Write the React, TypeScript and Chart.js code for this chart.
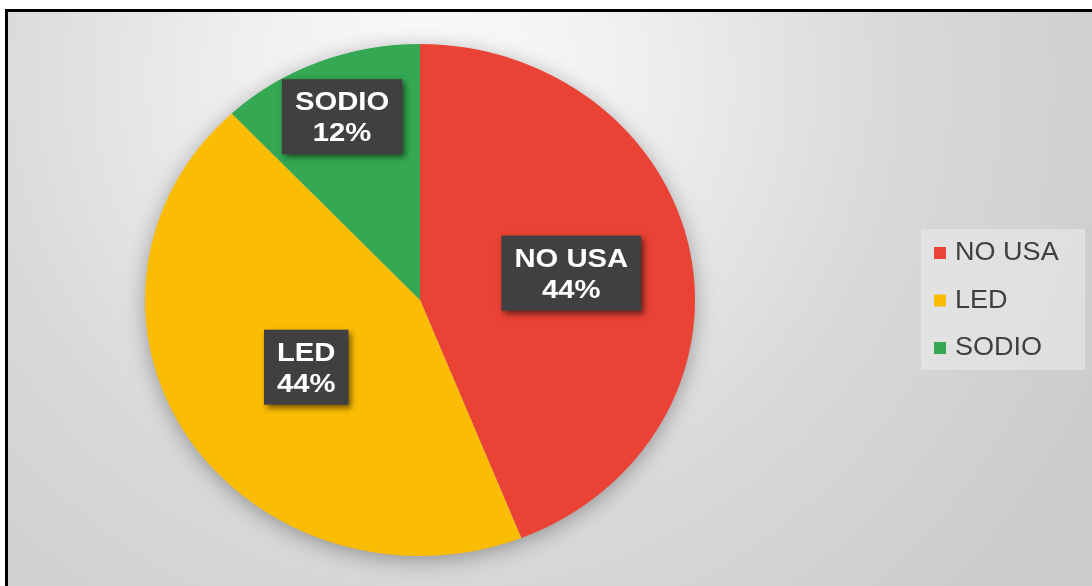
import React, { useEffect, useRef } from "react";
import { Chart, registerables } from "chart.js";

Chart.register(...registerables);

const categories = ["NO USA", "LED", "SODIO"];
const values = [44, 44, 12];
const percentLabels = ["44%", "44%", "12%"];
const colors = ["#EA4335", "#FBBC04", "#34A853"];
const labelRadius = [0.56, 0.49, 0.77];

const W = 1092;
const H = 586;
const X_STRETCH = 275 / 256;
const FONT = '"Liberation Sans", Arial, sans-serif';

const framePlugin = {
  id: "frame",
  beforeDraw(chart: any) {
    const ctx = chart.ctx;
    ctx.save();
    ctx.fillStyle = "#ffffff";
    ctx.fillRect(0, 0, W, H);
    const g = ctx.createRadialGradient(440, 80, 0, 440, 80, 760);
    g.addColorStop(0, "#fbfbfb");
    g.addColorStop(0.25, "#f0f0f0");
    g.addColorStop(0.6, "#d9d9d9");
    g.addColorStop(1, "#cbcbcb");
    ctx.fillStyle = g;
    ctx.fillRect(5, 9, W - 5, H - 9);
    ctx.fillStyle = "#000000";
    ctx.fillRect(5, 9, W - 5, 3);
    ctx.fillRect(5, 9, 3, H - 9);
    ctx.restore();
  },
};

const stretchPlugin = {
  id: "stretch",
  beforeDatasetsDraw(chart: any) {
    const ctx = chart.ctx;
    const arc = chart.getDatasetMeta(0).data[0];
    if (!arc) return;
    const { x, y, outerRadius } = arc.getProps(["x", "y", "outerRadius"], true);
    ctx.save();
    ctx.translate(x, y);
    ctx.scale(X_STRETCH, 1);
    ctx.translate(-x, -y);
    ctx.save();
    ctx.shadowColor = "rgba(0,0,0,0.35)";
    ctx.shadowBlur = 22;
    ctx.shadowOffsetY = 4;
    ctx.fillStyle = "#d0d0d0";
    ctx.beginPath();
    ctx.arc(x, y, outerRadius - 1, 0, Math.PI * 2);
    ctx.fill();
    ctx.restore();
  },
  afterDatasetsDraw(chart: any) {
    const ctx = chart.ctx;
    ctx.restore();

    const meta = chart.getDatasetMeta(0);
    meta.data.forEach((el: any, i: number) => {
      const p = el.getProps(["x", "y", "startAngle", "endAngle", "outerRadius"], true);
      const mid = (p.startAngle + p.endAngle) / 2;
      const lx = p.x + Math.cos(mid) * p.outerRadius * labelRadius[i] * X_STRETCH;
      const ly = p.y + Math.sin(mid) * p.outerRadius * labelRadius[i];
      const lines = [chart.data.labels[i], percentLabels[i]];
      const sx = 1.17;
      ctx.save();
      ctx.font = `bold 25px ${FONT}`;
      const tw = Math.max(...lines.map((t: string) => ctx.measureText(t).width)) * sx;
      const bw = tw + 26;
      const bh = 75;
      const bx = lx - bw / 2;
      const by = ly - bh / 2;
      ctx.save();
      ctx.shadowColor = "rgba(0,0,0,0.55)";
      ctx.shadowBlur = 6;
      ctx.shadowOffsetX = 3;
      ctx.shadowOffsetY = 3;
      ctx.fillStyle = "#404040";
      ctx.fillRect(bx, by, bw, bh);
      ctx.restore();
      ctx.fillStyle = "#ffffff";
      ctx.textAlign = "center";
      ctx.textBaseline = "middle";
      lines.forEach((t: string, k: number) => {
        ctx.save();
        ctx.translate(lx, by + 24 + k * 31);
        ctx.scale(sx, 1);
        ctx.fillText(t, 0, 0);
        ctx.restore();
      });
      ctx.restore();
    });

    ctx.save();
    ctx.fillStyle = "rgba(236,236,236,0.55)";
    ctx.fillRect(921, 229, 164, 141);
    ctx.font = `26px ${FONT}`;
    ctx.textBaseline = "middle";
    ctx.textAlign = "left";
    chart.data.labels.forEach((lab: string, i: number) => {
      const cy = 253 + i * 47.5;
      ctx.fillStyle = colors[i];
      ctx.fillRect(934, cy - 6, 12, 12);
      ctx.fillStyle = "#404040";
      ctx.save();
      ctx.translate(955, cy);
      ctx.scale(1.04, 1);
      ctx.fillText(lab, 0, 0);
      ctx.restore();
    });
    ctx.restore();
  },
};

export default function App() {
  const ref = useRef<HTMLCanvasElement | null>(null);
  useEffect(() => {
    if (!ref.current) return;
    const chart = new Chart(ref.current, {
      type: "pie",
      data: {
        labels: categories,
        datasets: [
          {
            data: values,
            backgroundColor: colors,
            borderWidth: 0,
          },
        ],
      },
      options: {
        animation: false,
        responsive: false,
        events: [],
        layout: { padding: { left: 164, right: 416, top: 44, bottom: 30 } },
        plugins: {
          legend: { display: false },
          tooltip: { enabled: false },
        },
      },
      plugins: [framePlugin, stretchPlugin],
    });
    return () => chart.destroy();
  }, []);
  return (
    <canvas
      ref={ref}
      width={W}
      height={H}
      style={{ position: "absolute", left: 0, top: 0, width: W, height: H, display: "block" }}
    />
  );
}
